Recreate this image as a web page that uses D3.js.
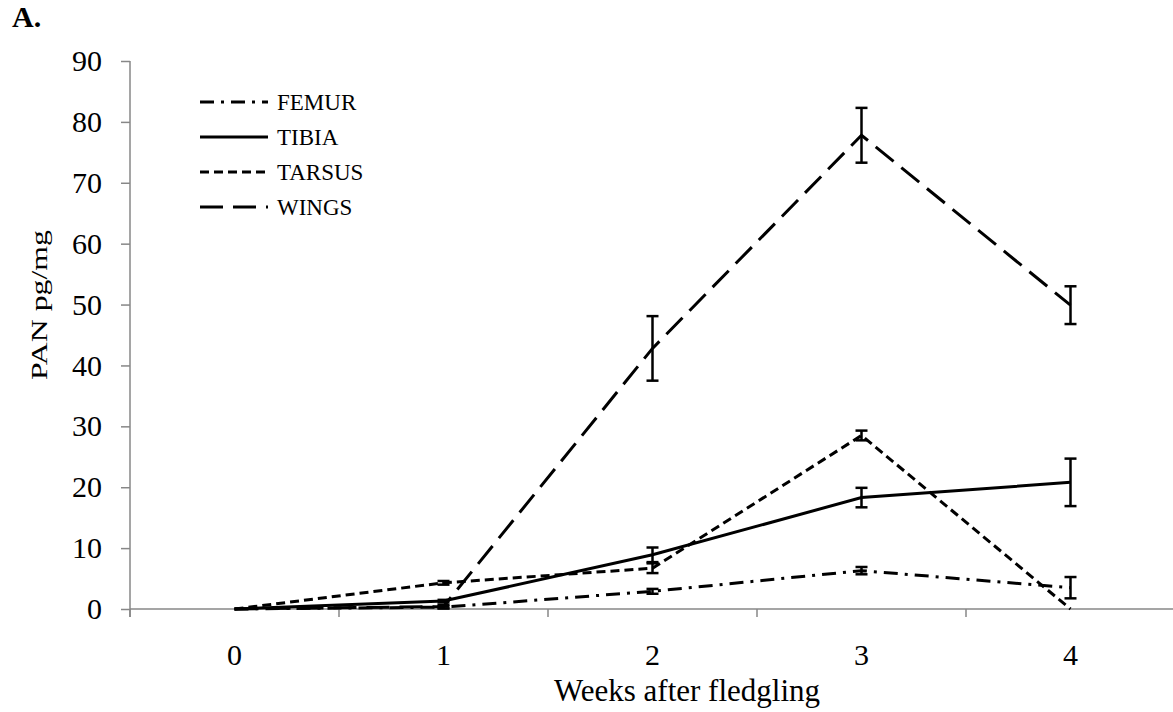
<!DOCTYPE html>
<html>
<head>
<meta charset="utf-8">
<script src="https://cdn.jsdelivr.net/npm/d3@7"></script>
<style>
  html, body { margin: 0; padding: 0; background: #fff; }
  svg { display: block; }
  text { font-family: "Liberation Serif", "Times New Roman", serif; fill: #000; }
</style>
</head>
<body>
<svg id="chart" width="1173" height="712"></svg>
<script>
// Weeks after fledgling
const weeks = ["0", "1", "2", "3", "4"];
const yTicks = [0, 10, 20, 30, 40, 50, 60, 70, 80, 90];

// Mean PAN (pg/mg) per tissue, with standard error
const femur     = [0, 0.3, 2.9, 6.3, 3.5];
const femurErr  = [0, 0.2, 0.4, 0.6, 1.75];
const tibia     = [0, 1.3, 8.9, 18.3, 20.8];
const tibiaErr  = [0, 0.2, 1.2, 1.6, 3.9];
const tarsus    = [0, 4.3, 6.7, 28.5, 0];
const tarsusErr = [0, 0.3, 0.8, 0.8, 0];
const wings     = [0, 0.4, 42.8, 77.8, 49.9];
const wingsErr  = [0, 0.3, 5.3, 4.5, 3.1];

const seriesNames = ["FEMUR", "TIBIA", "TARSUS", "WINGS"];

const series = [
  { name: seriesNames[0], values: femur,  err: femurErr,  dash: "14,7,3,7" },
  { name: seriesNames[1], values: tibia,  err: tibiaErr,  dash: null },
  { name: seriesNames[2], values: tarsus, err: tarsusErr, dash: "9,5" },
  { name: seriesNames[3], values: wings,  err: wingsErr,  dash: "23,10" }
];

const svg = d3.select("#chart");
const plotLeft = 130, plotRight = 1175, plotTop = 61, plotBottom = 609;
const axisColor = "#878787";

const x = d3.scaleBand().domain(weeks).range([plotLeft, plotRight]);
const cx = w => x(w) + x.bandwidth() / 2;
const y = d3.scaleLinear().domain([0, 90]).range([plotBottom, plotTop]);

// Panel letter
svg.append("text").attr("x", 12).attr("y", 27)
  .style("font-size", "30px").style("font-weight", "bold").text("A.");

// Y axis
const yAxis = svg.append("g").attr("transform", `translate(${plotLeft},0)`)
  .call(d3.axisLeft(y).tickValues(yTicks).tickSize(9).tickPadding(19).tickFormat(d3.format("d")));
yAxis.select(".domain").remove();
yAxis.selectAll(".tick line").attr("stroke", axisColor).attr("stroke-width", 1.5);
yAxis.selectAll(".tick text").style("font-size", "30px")
  .style("font-family", "Liberation Serif, Times New Roman, serif");
svg.append("line").attr("x1", plotLeft).attr("x2", plotLeft).attr("y1", plotTop).attr("y2", plotBottom + 8)
  .attr("stroke", axisColor).attr("stroke-width", 1.5);

// X axis: ticks sit on the category boundaries, labels in the middle
svg.append("line").attr("x1", plotLeft).attr("x2", plotRight).attr("y1", plotBottom).attr("y2", plotBottom)
  .attr("stroke", axisColor).attr("stroke-width", 1.5);
const edges = weeks.map(w => x(w)).concat([x(weeks[weeks.length - 1]) + x.bandwidth()]);
svg.selectAll(".xtick").data(edges).enter().append("line")
  .attr("x1", d => d).attr("x2", d => d).attr("y1", plotBottom).attr("y2", plotBottom + 8)
  .attr("stroke", axisColor).attr("stroke-width", 1.5);
svg.selectAll(".xlabel").data(weeks).enter().append("text")
  .attr("x", d => cx(d)).attr("y", 665).attr("text-anchor", "middle")
  .style("font-size", "30px").text(d => d);

// Axis titles
svg.append("text").attr("x", 687).attr("y", 701).attr("text-anchor", "middle")
  .style("font-size", "31px").text("Weeks after fledgling");
svg.append("text")
  .attr("transform", "translate(47,305) rotate(-90)")
  .attr("text-anchor", "middle")
  .attr("textLength", 150).attr("lengthAdjust", "spacingAndGlyphs")
  .style("font-size", "23px").text("PAN pg/mg");

// Series lines
const line = d3.line().x((d, i) => cx(weeks[i])).y(d => y(d));
series.forEach(s => {
  svg.append("path").datum(s.values)
    .attr("d", line).attr("fill", "none").attr("stroke", "#000")
    .attr("stroke-width", 3).attr("stroke-dasharray", s.dash);
});

// Error bars
series.forEach(s => {
  const g = svg.append("g");
  s.values.forEach((v, i) => {
    const e = s.err[i];
    if (!e) return;
    const px = cx(weeks[i]);
    const y1 = y(v + e), y2 = y(Math.max(0, v - e));
    g.append("line").attr("x1", px).attr("x2", px).attr("y1", y1).attr("y2", y2)
      .attr("stroke", "#000").attr("stroke-width", 2.5);
    [y1, y2].forEach(yy => g.append("line")
      .attr("x1", px - 6).attr("x2", px + 6).attr("y1", yy).attr("y2", yy)
      .attr("stroke", "#000").attr("stroke-width", 2.5));
  });
});

// Legend
const legendY = [102, 137, 172, 207];
series.forEach((s, i) => {
  svg.append("line").attr("x1", 200).attr("x2", 268)
    .attr("y1", legendY[i]).attr("y2", legendY[i])
    .attr("stroke", "#000").attr("stroke-width", 3).attr("stroke-dasharray", s.dash);
  svg.append("text").attr("x", 277).attr("y", legendY[i] + 8)
    .style("font-size", "23px").text(s.name);
});
</script>
</body>
</html>
